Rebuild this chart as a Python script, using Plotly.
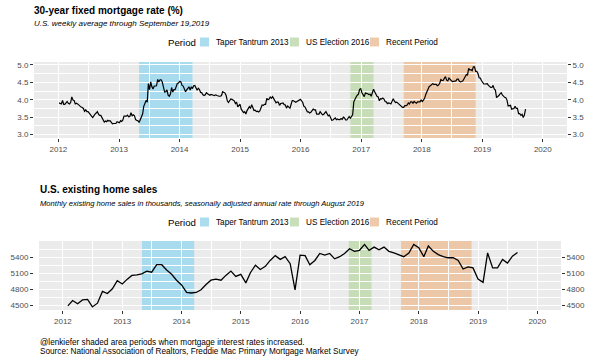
import plotly.graph_objects as go
import pandas as pd

# ---------------- data ----------------
rate_2012 = [3.91, 3.89, 3.88, 3.98, 3.87, 3.87, 3.92, 3.95, 3.90, 3.88, 3.92, 4.08, 3.99,
             3.98, 3.88, 3.90, 3.88, 3.84, 3.83, 3.79, 3.78, 3.75, 3.67, 3.71, 3.66, 3.66,
             3.62, 3.56, 3.53, 3.49, 3.55, 3.59, 3.62, 3.66, 3.59, 3.55, 3.55, 3.49, 3.40,
             3.36, 3.39, 3.37, 3.41, 3.39, 3.40, 3.34, 3.31, 3.32, 3.32, 3.32, 3.37, 3.35]
rate_2013 = [3.34, 3.40, 3.38, 3.42, 3.53, 3.53, 3.53, 3.56, 3.51, 3.52, 3.63, 3.54, 3.57,
             3.54, 3.43, 3.41, 3.40, 3.35, 3.42, 3.51, 3.59, 3.81, 3.91, 3.98, 3.93, 4.46,
             4.29, 4.51, 4.37, 4.31, 4.39, 4.40, 4.40, 4.58, 4.51, 4.57, 4.57, 4.50, 4.32,
             4.22, 4.23, 4.28, 4.13, 4.10, 4.16, 4.35, 4.22, 4.29, 4.29, 4.42, 4.47, 4.48]
rate_2014 = [4.53, 4.51, 4.41, 4.39, 4.32, 4.23, 4.28, 4.33, 4.37, 4.28, 4.37, 4.32, 4.40,
             4.41, 4.34, 4.27, 4.33, 4.29, 4.21, 4.20, 4.14, 4.12, 4.14, 4.20, 4.17, 4.14,
             4.13, 4.15, 4.13, 4.13, 4.12, 4.14, 4.12, 4.10, 4.10, 4.10, 4.12, 4.23, 4.20,
             4.19, 4.12, 3.97, 3.92, 3.98, 4.02, 4.01, 3.99, 3.97, 3.89, 3.93, 3.80, 3.83, 3.87]
rate_2015 = [3.73, 3.66, 3.63, 3.66, 3.59, 3.69, 3.76, 3.80, 3.75, 3.86, 3.78, 3.69,
             3.70, 3.66, 3.67, 3.65, 3.68, 3.80, 3.85, 3.84, 3.87, 3.87, 4.04, 4.00, 4.02,
             4.08, 4.04, 4.09, 4.04, 3.98, 3.91, 3.94, 3.93, 3.84, 3.89, 3.90, 3.91, 3.86,
             3.85, 3.76, 3.82, 3.79, 3.76, 3.87, 3.98, 3.97, 3.95, 3.93, 3.95, 3.97, 4.01, 4.01]
rate_2016 = [3.97, 3.92, 3.81, 3.79, 3.72, 3.65, 3.65, 3.62, 3.64, 3.68, 3.73, 3.71, 3.71,
             3.59, 3.58, 3.59, 3.66, 3.61, 3.57, 3.58, 3.64, 3.66, 3.60, 3.54, 3.56, 3.48,
             3.41, 3.42, 3.45, 3.48, 3.43, 3.45, 3.43, 3.43, 3.46, 3.44, 3.50, 3.48, 3.42,
             3.42, 3.47, 3.52, 3.47, 3.54, 3.57, 3.94, 4.03, 4.08, 4.13, 4.16, 4.30, 4.32]
rate_2017 = [4.20, 4.12, 4.09, 4.19, 4.19, 4.17, 4.15, 4.16, 4.10, 4.21, 4.30, 4.23, 4.14,
             4.10, 4.08, 3.97, 4.03, 4.02, 4.05, 4.02, 3.95, 3.94, 3.89, 3.91, 3.90, 3.88,
             3.96, 4.03, 3.96, 3.92, 3.93, 3.90, 3.89, 3.86, 3.82, 3.78, 3.78, 3.83, 3.83,
             3.85, 3.91, 3.88, 3.94, 3.94, 3.90, 3.95, 3.92, 3.90, 3.94, 3.93, 3.94, 3.99]
rate_2018 = [3.95, 3.99, 4.04, 4.15, 4.22, 4.32, 4.38, 4.40, 4.43, 4.46, 4.44, 4.45, 4.44,
             4.40, 4.42, 4.47, 4.58, 4.55, 4.55, 4.61, 4.66, 4.56, 4.54, 4.62, 4.57, 4.55,
             4.52, 4.53, 4.52, 4.54, 4.59, 4.59, 4.53, 4.51, 4.52, 4.54, 4.60, 4.65, 4.72,
             4.71, 4.90, 4.85, 4.86, 4.83, 4.94, 4.94, 4.81, 4.81, 4.75, 4.63, 4.62, 4.55]
rate_2019 = [4.51, 4.45, 4.45, 4.45, 4.46, 4.41, 4.37, 4.35, 4.35, 4.41, 4.31, 4.28, 4.06,
             4.08, 4.12, 4.17, 4.20, 4.14, 4.10, 4.07, 4.06, 3.99, 3.82, 3.82, 3.84, 3.73,
             3.75, 3.75, 3.81, 3.75, 3.75, 3.60, 3.60, 3.55, 3.58, 3.49, 3.56, 3.73]
rate = rate_2012 + rate_2013 + rate_2014 + rate_2015 + rate_2016 + rate_2017 + rate_2018 + rate_2019
rate_dates = pd.date_range("2012-01-05", periods=len(rate), freq="7D")

sales_2012 = [4490, 4590, 4530, 4600, 4610, 4470, 4540, 4760, 4720, 4810, 4960, 4900]
sales_2013 = [4990, 5060, 5070, 5090, 5140, 5120, 5260, 5260, 5160, 5080, 4970, 4880]
sales_2014 = [4740, 4730, 4740, 4790, 4890, 4970, 4990, 4970, 5060, 5140, 5040, 5080]
sales_2015 = [4920, 5110, 5250, 5170, 5230, 5340, 5430, 5360, 5410, 5280, 4790, 5440]
sales_2016 = [5430, 5260, 5340, 5470, 5440, 5470, 5370, 5410, 5470, 5560, 5510, 5530]
sales_2017 = [5640, 5530, 5590, 5540, 5590, 5510, 5480, 5450, 5410, 5480, 5640, 5580]
sales_2018 = [5410, 5610, 5510, 5450, 5410, 5390, 5390, 5340, 5180, 5220, 5200, 4990]
sales_2019 = [4930, 5480, 5200, 5200, 5360, 5290, 5420, 5490]
sales = sales_2012 + sales_2013 + sales_2014 + sales_2015 + sales_2016 + sales_2017 + sales_2018 + sales_2019
# monthly values plotted at month end (start of following month)
sales_dates = pd.date_range("2012-02-01", periods=len(sales), freq="MS")

period_names = ["Taper Tantrum 2013", "US Election 2016", "Recent Period"]
period_start = ["2013-05-02", "2016-10-27", "2017-09-14"]
period_end = ["2014-03-20", "2017-03-16", "2018-11-22"]
period_fill = ["#A9DBEE", "#C7DDB8", "#EDC8A8"]
period_key = ["#ACDDEF", "#C8DFBA", "#EECAAB"]

rate_ticks = [3.0, 3.5, 4.0, 4.5, 5.0]
sales_ticks = [4500, 4800, 5100, 5400]

# ---------------- layout helpers ----------------
W, H = 600, 360
FONT = "Liberation Sans, Arial, Helvetica, sans-serif"


def px(xp):
    return xp / W


def py(yp):
    return 1 - yp / H


fig = go.Figure()
fig.add_trace(go.Scatter(x=rate_dates, y=rate, mode="lines", line=dict(color="black", width=1.2),
                         xaxis="x", yaxis="y", showlegend=False))
fig.add_trace(go.Scatter(x=rate_dates, y=rate, mode="lines", line=dict(color="rgba(0,0,0,0)", width=0),
                         xaxis="x", yaxis="y2", showlegend=False, hoverinfo="skip"))
fig.add_trace(go.Scatter(x=sales_dates, y=sales, mode="lines", line=dict(color="black", width=1.3),
                         xaxis="x2", yaxis="y3", showlegend=False))
fig.add_trace(go.Scatter(x=sales_dates, y=sales, mode="lines", line=dict(color="rgba(0,0,0,0)", width=0),
                         xaxis="x2", yaxis="y4", showlegend=False, hoverinfo="skip"))

tickfont = dict(size=8, color="#4D4D4D", family=FONT)
x_range = ["2011-08-07", "2020-05-26"]
xcommon = dict(type="date", range=x_range, tickformat="%Y", dtick="M12", tick0="2012-01-01",
               showgrid=True, gridcolor="white", gridwidth=1, ticks="outside", ticklen=3,
               tickcolor="#333333", tickwidth=1, tickfont=tickfont, zeroline=False, showline=False,
               minor=dict(dtick="M12", tick0="2011-07-02", showgrid=True, gridcolor="white", gridwidth=0.5))
ycommon = dict(showgrid=True, gridcolor="white", gridwidth=1, ticks="outside", ticklen=3,
               tickcolor="#333333", tickwidth=1, tickfont=tickfont, zeroline=False, showline=False)

fig.update_layout(
    width=W, height=H, margin=dict(l=0, r=0, t=0, b=0, autoexpand=False),
    paper_bgcolor="white", plot_bgcolor="#EBEBEB", showlegend=False,
    font=dict(family=FONT),
    xaxis=dict(domain=[px(34), px(567)], anchor="y", **xcommon),
    yaxis=dict(domain=[py(138), py(62)], range=[2.905, 5.08], tickvals=rate_ticks,
               tickformat=".1f", minor=dict(dtick=0.25, tick0=0, showgrid=True, gridcolor="white", gridwidth=0.5),
               **ycommon),
    yaxis2=dict(overlaying="y", side="right", matches="y", anchor="x", tickvals=rate_ticks, tickformat=".1f",
                ticks="outside", ticklen=3, tickcolor="#333333", tickfont=tickfont, showgrid=False,
                zeroline=False, showline=False),
    xaxis2=dict(domain=[px(39), px(561)], anchor="y3", **xcommon),
    yaxis3=dict(domain=[py(310), py(241)], range=[4412, 5704], tickvals=sales_ticks, tickformat="d",
                minor=dict(dtick=150, tick0=4500, showgrid=True, gridcolor="white", gridwidth=0.5),
                **ycommon),
    yaxis4=dict(overlaying="y3", side="right", matches="y3", anchor="x2", tickvals=sales_ticks, tickformat="d",
                ticks="outside", ticklen=3, tickcolor="#333333", tickfont=tickfont, showgrid=False,
                zeroline=False, showline=False),
)

shapes = []
annotations = []
for xr, yr in [("x", "y"), ("x2", "y3")]:
    for s, e, c in zip(period_start, period_end, period_fill):
        shapes.append(dict(type="rect", xref=xr, yref=yr + " domain", x0=s, x1=e, y0=0, y1=1,
                           fillcolor=c, line=dict(width=0), layer="below"))


def text(x, y, t, size, color="black", bold=False, italic=False):
    if bold:
        t = "<b>" + t + "</b>"
    if italic:
        t = "<i>" + t + "</i>"
    annotations.append(dict(xref="paper", yref="paper", x=px(x), y=py(y), text=t, showarrow=False,
                            xanchor="left", yanchor="middle",
                            font=dict(size=size, color=color, family=FONT)))


# titles
text(32, 10, "30-year fixed mortgage rate (%)", 10, bold=True)
text(32, 23, "U.S. weekly average through September 19,2019", 8, italic=True)
text(38, 189, "U.S. existing home sales", 10, bold=True)
text(38, 203, "Monthly existing home sales in thousands, seasonally adjusted annual rate through August 2019", 7.6, italic=True)
text(38, 342, "@lenkiefer shaded area periods when mortgage interest rates increased.", 8.2)
text(38, 351, "Source: National Association of Realtors, Freddie Mac Primary Mortgage Market Survey", 8.2)

# legends (one per panel)
key_x = [200, 290, 370]
label_x = [214, 304, 384]
for cy in [42, 222]:
    text(166, cy, "Period", 9.7)
    for kx, lx, name, kc in zip(key_x, label_x, period_names, period_key):
        shapes.append(dict(type="rect", xref="paper", yref="paper", x0=px(kx), x1=px(kx + 9),
                           y0=py(cy + 4.5), y1=py(cy - 4.5), fillcolor=kc, line=dict(width=0)))
        text(lx, cy, name, 8.2)

fig.update_layout(shapes=shapes, annotations=annotations)
fig.write_html("out.html", config={"displayModeBar": False},
               post_script="document.body.style.margin='0';document.body.style.overflow='hidden';")
